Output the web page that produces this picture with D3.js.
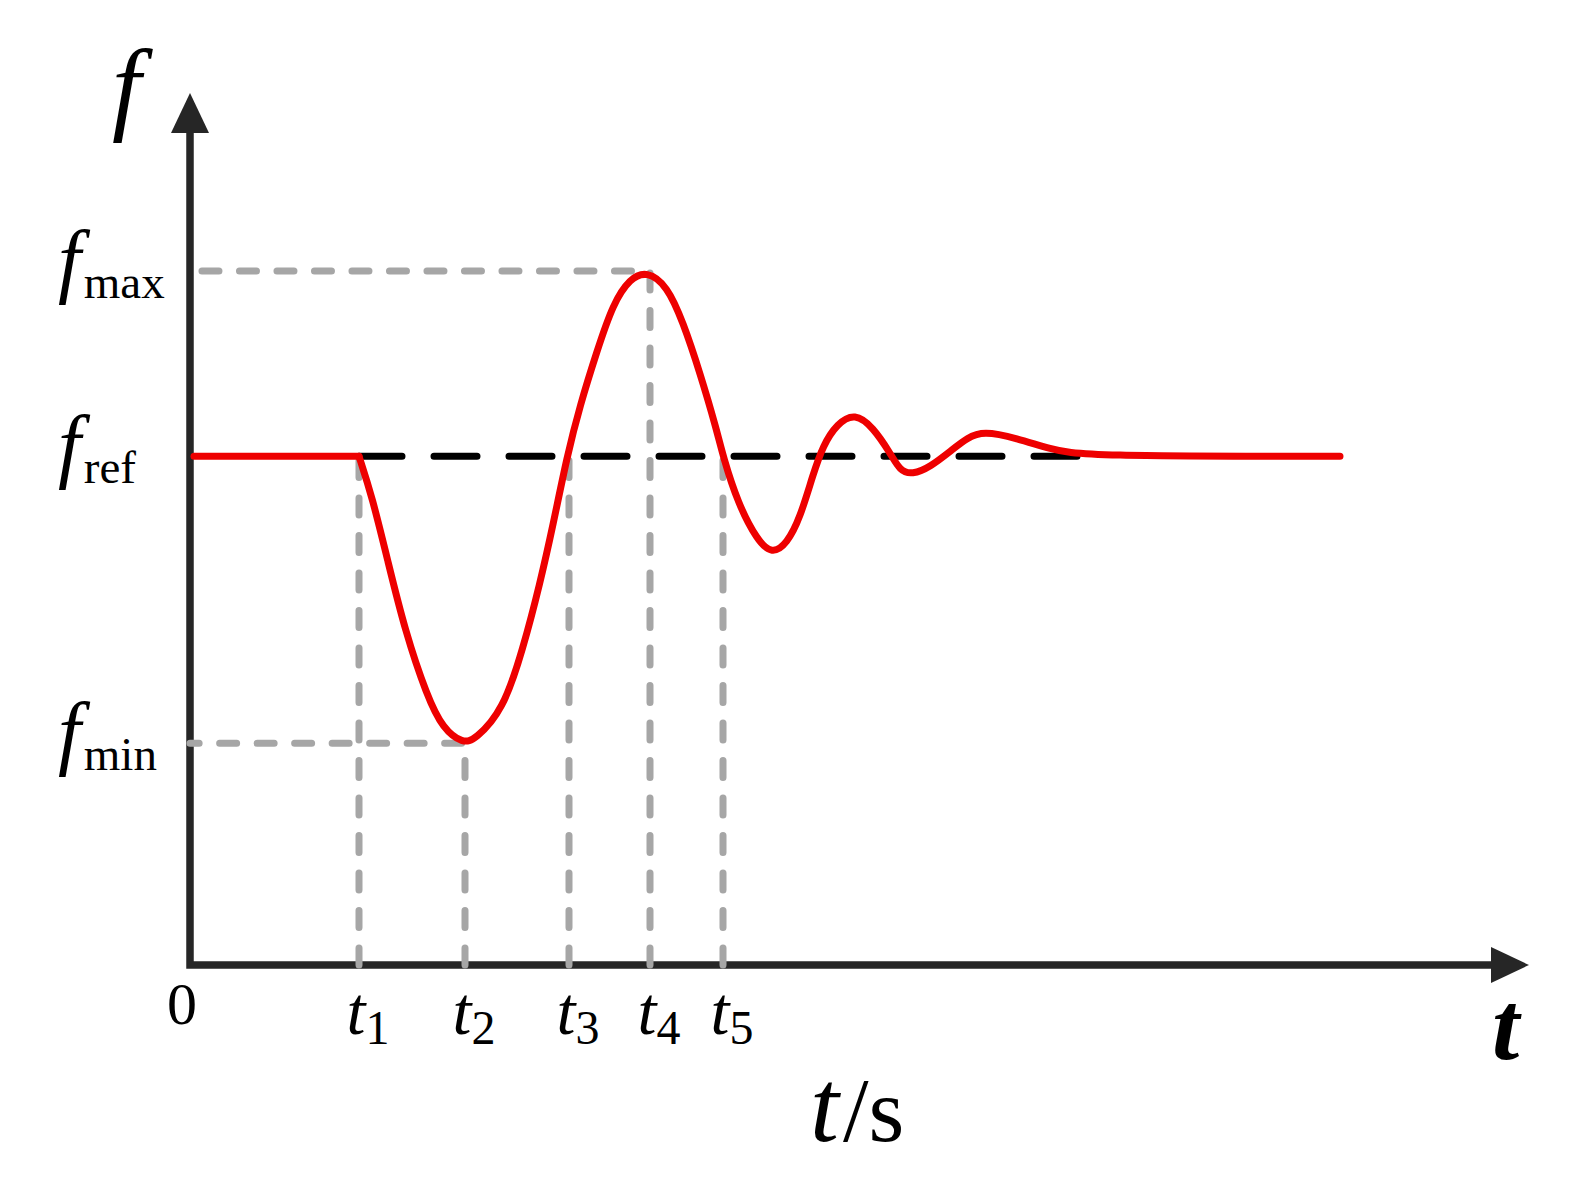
<!DOCTYPE html>
<html><head><meta charset="utf-8">
<script src="https://cdn.jsdelivr.net/npm/d3@7"></script>
<style>
html,body{margin:0;padding:0;background:#fff;}
svg{display:block;}
text{font-family:"Liberation Serif","Times New Roman",serif;fill:#000;}
</style>
</head><body>
<svg id="chart" width="1577" height="1186"></svg>
<script>
// ---- data (time in arbitrary s units, frequency in Hz) ----
const preTimes = [0.04, 1.69];
const preFreqs = [50.00, 50.00];
const timeValues = [1.69, 1.82, 1.98, 2.15, 2.37, 2.53, 2.73, 2.85, 3.13, 3.33, 3.50, 3.63, 3.77, 3.90, 4.07, 4.23, 4.40, 4.57, 4.77, 4.93, 5.10, 5.27, 5.33, 5.48, 5.67, 5.82, 5.97, 6.10, 6.23, 6.33, 6.47, 6.65, 6.83, 7.00, 7.10, 7.22, 7.40, 7.63, 7.77, 7.93, 8.27, 8.60, 8.93, 11.50];
const freqValues = [50.00, 49.89, 49.71, 49.52, 49.34, 49.25, 49.21, 49.22, 49.30, 49.47, 49.65, 49.81, 50.00, 50.14, 50.29, 50.42, 50.49, 50.51, 50.47, 50.37, 50.23, 50.07, 50.00, 49.87, 49.77, 49.73, 49.76, 49.83, 49.95, 50.03, 50.09, 50.12, 50.08, 50.01, 49.96, 49.95, 49.97, 50.02, 50.05, 50.07, 50.05, 50.02, 50.00, 50.00];
const fRef = 50.00, fMax = 50.51, fMin = 49.21;
const tickTimes = [1.69, 2.75, 3.79, 4.60, 5.33];
const tickSubs = ["1", "2", "3", "4", "5"];
const yTickValues = [fMax, fRef, fMin];
const yTickSubs = ["max", "ref", "min"];
const refDashEnd = 8.95;
const xDomain = [0, 13.39];
const yDomain = [48.6, 51.0];

// ---- scales ----
const x = d3.scaleLinear().domain(xDomain).range([190, 1529]);
const y = d3.scaleLinear().domain(yDomain).range([965, 93]);

const svg = d3.select("#chart");
const axisColor = "#262626";
const x0 = x(0), y0 = y(yDomain[0]);

// axes lines
svg.append("path")
  .attr("d", `M${x0},${y(yDomain[1]) + 38}V${y0}H${x(xDomain[1]) - 38}`)
  .attr("fill", "none").attr("stroke", axisColor).attr("stroke-width", 7.5)
  .attr("stroke-linejoin", "miter");
// arrow heads
svg.append("path")
  .attr("d", `M${x0},${y(yDomain[1])}L${x0 - 19},${y(yDomain[1]) + 40}L${x0 + 19},${y(yDomain[1]) + 40}Z`)
  .attr("fill", axisColor);
svg.append("path")
  .attr("d", `M${x(xDomain[1])},${y0}L${x(xDomain[1]) - 38},${y0 - 18}L${x(xDomain[1]) - 38},${y0 + 18}Z`)
  .attr("fill", axisColor);

// D3 axes for tick label placement
const xAxis = svg.append("g").attr("transform", `translate(0,${y0})`)
  .call(d3.axisBottom(x).tickValues(tickTimes).tickSize(0).tickFormat(""));
xAxis.select(".domain").remove();
xAxis.selectAll(".tick").each(function(d, i) {
  const t = d3.select(this).append("text")
    .attr("x", -13).attr("y", 69).attr("text-anchor", "start").attr("fill", "#000");
  t.append("tspan").attr("font-style", "italic").attr("font-size", 68).text("t");
  t.append("tspan").attr("font-size", 48).attr("dy", 10).text(tickSubs[i]);
});

const yAxis = svg.append("g").attr("transform", `translate(${x0},0)`)
  .call(d3.axisLeft(y).tickValues(yTickValues).tickSize(0).tickFormat(""));
yAxis.select(".domain").remove();
yAxis.selectAll(".tick").each(function(d, i) {
  const t = d3.select(this).append("text")
    .attr("x", -132).attr("y", 15).attr("text-anchor", "start").attr("fill", "#000");
  t.append("tspan").attr("font-style", "italic").attr("font-size", 82).text("f");
  t.append("tspan").attr("font-size", 47).attr("dy", 11).attr("dx", 3).text(yTickSubs[i]);
});

// gray guide lines (from axis up, then across)
const gray = "#a6a6a6";
const guides = [
  `M${x(tickTimes[0])},${y0}V${y(fRef)}`,
  `M${x(tickTimes[1])},${y0}V${y(fMin)}H${x0}`,
  `M${x(tickTimes[2])},${y0}V${y(fRef)}`,
  `M${x(tickTimes[3])},${y0}V${y(fMax)}H${x0}`,
  `M${x(tickTimes[4])},${y0}V${y(fRef)}`
];
svg.selectAll("path.guide").data(guides).enter().append("path")
  .attr("class", "guide").attr("d", d => d)
  .attr("fill", "none").attr("stroke", gray).attr("stroke-width", 7)
  .attr("stroke-dasharray", "17,20.5").attr("stroke-linecap", "round");

// black dashed reference line
svg.append("path")
  .attr("d", d3.line().x(d => x(d[0])).y(d => y(d[1]))([[tickTimes[0], fRef], [refDashEnd, fRef]]))
  .attr("fill", "none").attr("stroke", "#000").attr("stroke-width", 7)
  .attr("stroke-dasharray", "43,32").attr("stroke-linecap", "round");

// red frequency curve
const red = "#ee0000";
const straight = d3.line().x(d => x(d[0])).y(d => y(d[1]));
svg.append("path")
  .attr("d", straight(preTimes.map((t, i) => [t, preFreqs[i]])))
  .attr("fill", "none").attr("stroke", red).attr("stroke-width", 7).attr("stroke-linecap", "round");
svg.append("path")
  .attr("d", d3.line().x(d => x(d[0])).y(d => y(d[1])).curve(d3.curveBasis)(timeValues.map((t, i) => [t, freqValues[i]])))
  .attr("fill", "none").attr("stroke", red).attr("stroke-width", 7)
  .attr("stroke-linecap", "round").attr("stroke-linejoin", "round");

// axis titles
svg.append("text").attr("x", 112).attr("y", 121).attr("font-style", "italic").attr("font-size", 104).text("f");
svg.append("text").attr("x", 182).attr("y", 1024).attr("text-anchor", "middle").attr("font-size", 60).text("0");
svg.append("text").attr("x", 1492).attr("y", 1059).attr("font-style", "italic").attr("font-weight", "bold").attr("font-size", 98).text("t");
const ts = svg.append("text").attr("x", 810).attr("y", 1141);
ts.append("tspan").attr("font-style", "italic").attr("font-size", 104).text("t");
ts.append("tspan").attr("font-size", 92).attr("dx", 4).text("/s");
</script>
</body></html>
